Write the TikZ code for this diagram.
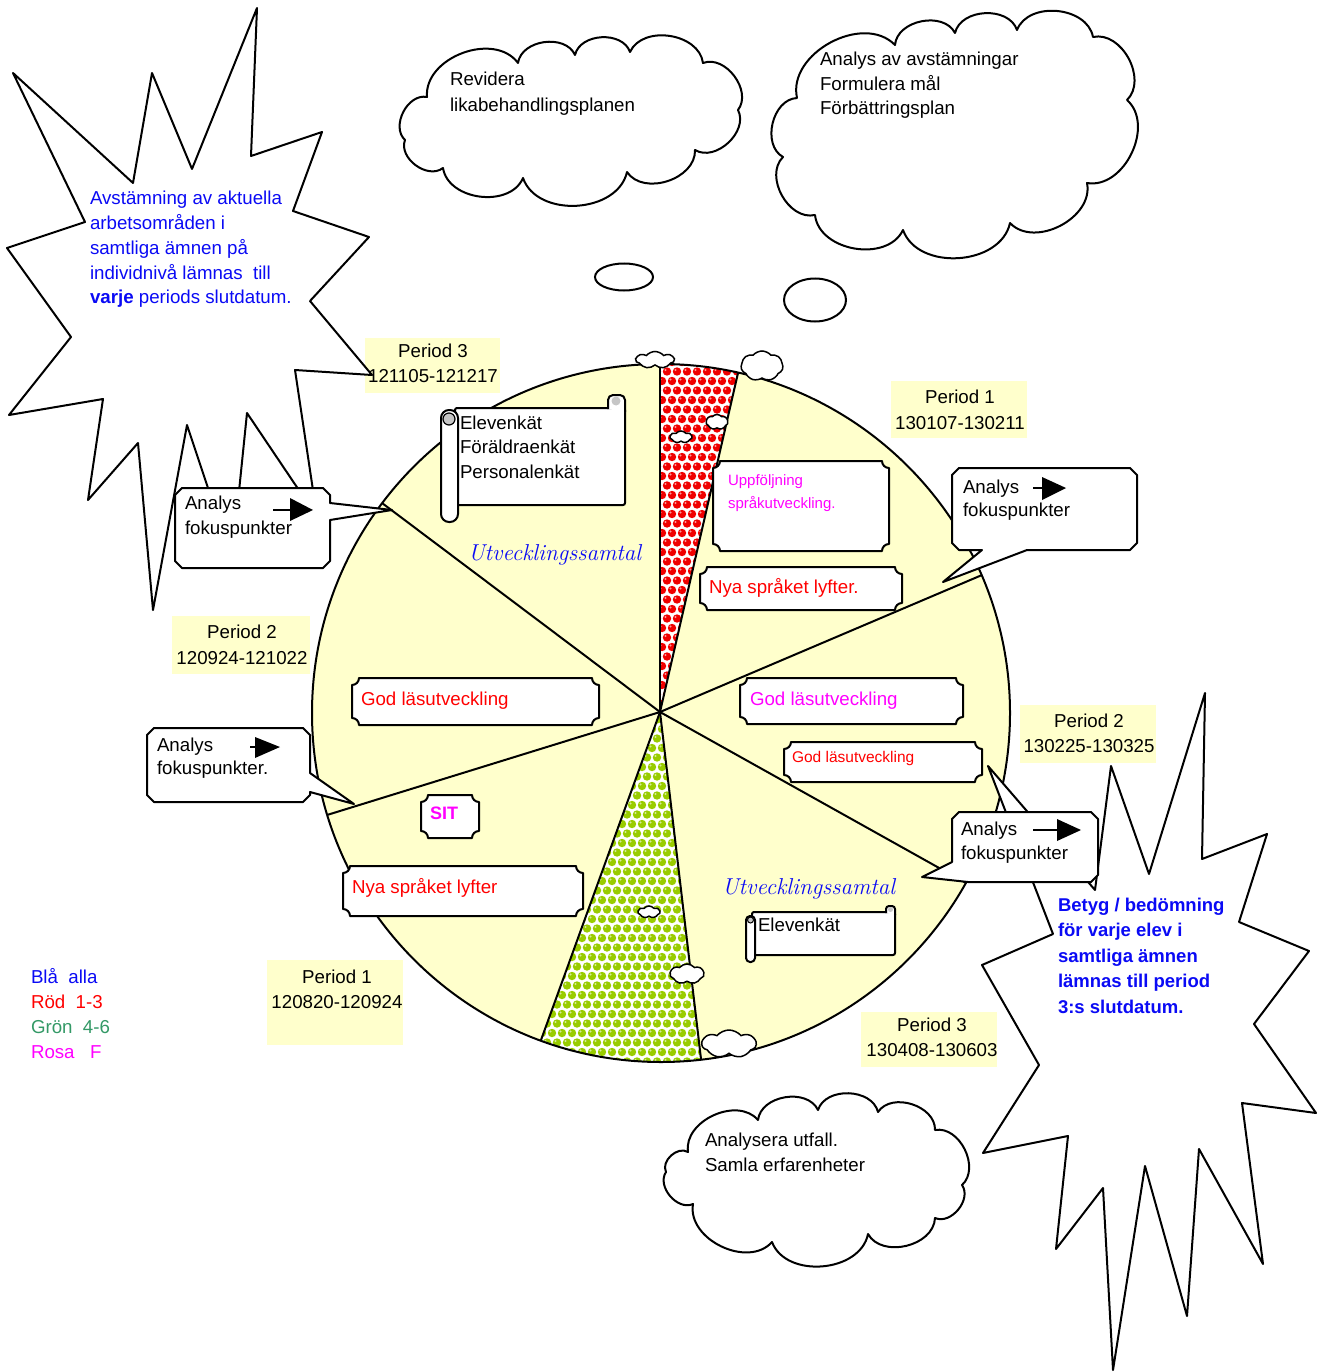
\documentclass[tikz,border=0pt]{standalone}
\usepackage{fontspec}
\setsansfont{Liberation Sans}
\usetikzlibrary{shapes.symbols,shapes.geometric,calc}
\definecolor{pyellow}{RGB}{255,255,204}
\definecolor{tblue}{RGB}{10,10,245}
\definecolor{tred}{RGB}{255,0,0}
\definecolor{tmag}{RGB}{255,0,255}
\definecolor{tgreen}{RGB}{51,153,102}
\definecolor{dotred}{RGB}{240,0,0}
\definecolor{dotgreen}{RGB}{153,204,0}
\newcommand\ltab[1]{\begin{tabular}[t]{@{}l@{}}#1\end{tabular}}
\newcommand\ctab[1]{\begin{tabular}[t]{@{}c@{}}#1\end{tabular}}
\newcommand\fsz[1]{\sffamily\fontsize{18.7}{#1}\selectfont}
\tikzset{
  outl/.style={line width=2pt, line join=round},
  pf/.style={bend left=74, looseness=1.05},
  blob/.style={cloud, cloud puffs=7, cloud puff arc=100, cloud ignores aspect, draw, fill=white, line width=1.5pt, inner sep=0, outer sep=0},
  bubble/.style={ellipse, draw, fill=white, line width=2pt, inner sep=0, outer sep=0},
  pbox/.style={fill=pyellow, draw=none, inner sep=0, outer sep=0},
  plqline/.style={draw, fill=white, line width=2pt, line join=round},
  txt/.style={inner sep=0, outer sep=0, font=\fsz{24.5}},
  callout/.style={draw, fill=white, line width=2pt, line join=round},
  spoke/.style={line width=2pt},
}
% plaque: name, x1, y1, x2, y2
\newcommand\plaquebox[5]{%
  \coordinate (#1nw) at (#2,#3);
  \coordinate (#1se) at (#4,#5);
  \draw[plqline] (#2+7,#3) -- (#4-7,#3) arc[start angle=180,end angle=90,radius=7]
    -- (#4,#5-7) arc[start angle=270,end angle=180,radius=7]
    -- (#2+7,#5) arc[start angle=360,end angle=270,radius=7]
    -- (#2,#3+7) arc[start angle=90,end angle=0,radius=7] -- cycle;}
\begin{document}
\begin{tikzpicture}[x=1pt,y=-1pt]
\useasboundingbox (0,0) rectangle (1324,1372);
\fill[white] (0,0) rectangle (1324,1372);

% thought clouds
\coordinate (cloudA) at (569,123);
\draw[outl, fill=white] (405,140) to[pf] (427,97) to[pf] (518,63) to[pf] (575,55) to[pf] (630,52) to[pf] (703,63) to[pf] (738,110) to[pf] (695,150) to[pf] (627,172) to[pf] (523,178) to[pf] (443,168) to[pf] (405,140) -- cycle;
\coordinate (cloudB) at (950,135);
\draw[outl, fill=white] (797,98) to[pf] (895,45) to[pf] (955,33) to[pf] (1017,30) to[pf] (1093,37) to[pf] (1127,100) to[pf] (1087,183) to[pf] (1010,223) to[pf] (903,230) to[pf] (815,215) to[pf] (783,157) to[pf] (797,98) -- cycle;
\coordinate (cloudC) at (813,1181);
\draw[outl, fill=white] (688,1152) to[pf] (758,1120) to[pf] (818,1110) to[pf] (878,1112) to[pf] (935,1130) to[pf] (962,1185) to[pf] (935,1218) to[pf] (868,1234) to[pf] (772,1242) to[pf] (693,1204) to[pf] (666,1172) to[pf] (688,1152) -- cycle;
\node[bubble, minimum width=58pt, minimum height=27pt] (bubA) at (624,277) {};
\node[bubble, minimum width=62pt, minimum height=43pt] (bubB) at (815,300) {};

% period boxes
\node[pbox, minimum width=135pt, minimum height=55pt] (p3l) at (432.5,365.5) {};
\node[pbox, minimum width=136pt, minimum height=57pt] (p1r) at (959,409.5) {};
\node[pbox, minimum width=138pt, minimum height=58pt] (p2l) at (241,645) {};
\node[pbox, minimum width=136pt, minimum height=58pt] (p2r) at (1088,734) {};
\node[pbox, minimum width=136pt, minimum height=85pt] (p1l) at (335,1002.5) {};
\node[pbox, minimum width=136pt, minimum height=55pt] (p3r) at (929,1039.5) {};

% left starburst
\draw[outl, fill=white] (13,73) -- (133,183) -- (152,73) -- (192,169) -- (257,8) -- (251,156) -- (322,132) -- (293,211) -- (369,237) -- (310,301) -- (372,375) -- (295,370) -- (317,517) -- (247,413) -- (232,560) -- (187,425) -- (153,610) -- (138,443) -- (88,500) -- (103,399) -- (9,415) -- (71,337) -- (7,248) -- (85,222) -- cycle;

% wheel
\node[circle, fill=pyellow, minimum size=698pt, inner sep=0, outer sep=0] (wheel) at (661,713) {};
\coordinate (C) at (660,712);
\coordinate (sTop) at (660,364);
\coordinate (sRed) at (738,373);
\coordinate (sUL) at (382,503);
\coordinate (sUR) at (982,575);
\coordinate (sLL) at (327,815);
\coordinate (sLR) at (966,883);
\coordinate (sGL) at (541,1040);
\coordinate (sGR) at (701,1059);

\begin{scope}
  \clip (661,713) circle (349pt);
  \begin{scope}
    \clip (C) -- (660,330) -- ($(C)!1.12!(sRed)$) -- cycle;
    \fill[white] (640,330) rectangle (760,720);
    \foreach \j in {0,...,37} {
      \foreach \i in {0,...,10} {
        \pgfmathsetmacro{\xx}{652+\i*10+mod(\j,2)*5}
        \pgfmathsetmacro{\yy}{362+\j*9.5}
        \fill[dotred] (\xx,\yy) circle (4.2pt);
        \fill[white, opacity=0.6] (\xx-1.5,\yy-1.5) circle (1.2pt);
      }
    }
  \end{scope}
  \begin{scope}
    \clip (C) -- ($(C)!1.1!(sGL)$) -- ($(C)!1.1!(sGR)$) -- cycle;
    \fill[white] (500,700) rectangle (720,1080);
    \foreach \j in {0,...,39} {
      \foreach \i in {0,...,19} {
        \pgfmathsetmacro{\xx}{522+\i*10+mod(\j,2)*5}
        \pgfmathsetmacro{\yy}{710+\j*9.5}
        \fill[dotgreen] (\xx,\yy) circle (4.2pt);
        \fill[white, opacity=0.6] (\xx-1.5,\yy-1.5) circle (1.2pt);
      }
    }
  \end{scope}
\end{scope}

\foreach \e in {sTop,sRed,sUL,sUR,sLL,sLR,sGL,sGR} { \draw[spoke] (C) -- (\e); }
\node[circle, draw, line width=2pt, minimum size=698pt, inner sep=0, outer sep=0] (rim) at (661,713) {};

% right starburst
\draw[outl, fill=white] (1205,693) -- (1202,859) -- (1267,834) -- (1239,922) -- (1309,951) -- (1254,1024) -- (1316,1113) -- (1242,1103) -- (1263,1264) -- (1199,1149) -- (1187,1316) -- (1145,1166) -- (1113,1370) -- (1103,1188) -- (1056,1249) -- (1068,1136) -- (983,1153) -- (1039,1065) -- (982,965) -- (1053,934) -- (988,766) -- (1095,890) -- (1111,766) -- (1149,874) -- cycle;

% blobs on wheel
\node[blob, minimum width=38pt, minimum height=17pt] (bl1) at (655,360) {};
\node[blob, minimum width=42pt, minimum height=30pt] (bl2) at (762,366) {};
\node[blob, minimum width=22pt, minimum height=12pt] (bl3) at (681,437) {};
\node[blob, minimum width=22pt, minimum height=15pt] (bl4) at (717,422) {};
\node[blob, minimum width=22pt, minimum height=12pt] (bl5) at (649,912) {};
\node[blob, minimum width=34pt, minimum height=20pt] (bl6) at (687,974) {};
\node[blob, minimum width=54pt, minimum height=28pt] (bl7) at (729,1044) {};

% callouts
\draw[callout] (182,488) -- (323,488) -- (330,495) -- (330,503) -- (392,510) -- (330,520) -- (330,561) -- (323,568) -- (182,568) -- (175,561) -- (175,495) -- cycle;
\draw[callout] (154,728) -- (303,728) -- (310,735) -- (310,773) -- (354,804) -- (310,792) -- (310,795) -- (303,802) -- (154,802) -- (147,795) -- (147,735) -- cycle;
\draw[callout] (959,468) -- (1130,468) -- (1137,475) -- (1137,543) -- (1130,550) -- (1027,550) -- (943,582) -- (982,550) -- (959,550) -- (952,543) -- (952,475) -- cycle;
\draw[callout] (959,812) -- (1091,812) -- (1098,819) -- (1098,875) -- (1091,882) -- (968,882) -- (922,877) -- (952,862) -- (952,819) -- cycle;
% arrows in callouts
\draw[line width=1.5pt] (273,510) -- (292,510);
\fill (290,498) -- (313,510) -- (290,521) -- cycle;
\draw[line width=1.5pt] (250,747) -- (257,747);
\fill (255,737) -- (280,747) -- (255,758) -- cycle;
\draw[line width=1.5pt] (1033,488) -- (1043,488);
\fill (1042,477) -- (1066,488) -- (1042,500) -- cycle;
\draw[line width=1.5pt] (1033,830) -- (1058,830);
\fill (1057,819) -- (1081,830) -- (1057,841) -- cycle;

% plaques
\plaquebox{upp}{713}{461}{889}{551}
\plaquebox{nyaA}{700}{567}{902}{610}
\plaquebox{godm}{740}{678}{963}{724}
\plaquebox{gods}{784}{742}{982}{782}
\plaquebox{godl}{352}{678}{599}{725}
\plaquebox{sit}{421}{795}{479}{838}
\plaquebox{nyaB}{343}{866}{583}{916}

% big scroll
\node[draw, fill=white, line width=2pt, rounded corners=2pt, minimum width=170pt, minimum height=97pt, inner sep=0, outer sep=0] (scrollA) at (540,456.5) {};
\draw[outl, fill=white, rounded corners=5pt] (608,409) -- (608,395) -- (625,395) -- (625,412);
\fill[gray!45] (616,401) circle (4.5pt);
\draw[outl, fill=white, rounded corners=8pt] (441,410) rectangle (458,522);
\draw[line width=1.2pt, fill=gray!45] (449,419) circle (6pt);
% small scroll
\node[draw, fill=white, line width=2pt, rounded corners=2pt, minimum width=143pt, minimum height=43pt, inner sep=0, outer sep=0] (scrollB) at (823.5,933.5) {};
\draw[outl, fill=white, rounded corners=3pt] (886,913) -- (886,906) -- (895,906) -- (895,915);
\fill[gray!45] (890.5,909.5) circle (2.5pt);
\draw[outl, fill=white, rounded corners=4pt] (746,916) rectangle (755,962);
\draw[line width=1pt, fill=gray!45] (750.5,920) circle (3pt);

% texts
\node[txt, anchor=base west, text=tblue, font=\fsz{24.7}] (tAvst) at (90,205) {\ltab{Avstämning av aktuella\\arbetsområden i\\samtliga ämnen på\\individnivå lämnas\ \ till\\\textbf{varje} periods slutdatum.}};
\node[txt, anchor=base west, font=\fsz{26}] (tRev) at (450,86) {\ltab{Revidera\\likabehandlingsplanen}};
\node[txt, anchor=base west] (tAna) at (820,66) {\ltab{Analys av avstämningar\\Formulera mål\\Förbättringsplan}};
\node[txt, anchor=base west, font=\fsz{25}] (tAnaU) at (705,1146) {\ltab{Analysera utfall.\\Samla erfarenheter}};

\node[txt, anchor=base, font=\fsz{25}] (tp3l) at (433,357) {\ctab{Period 3\\121105-121217}};
\node[txt, anchor=base, font=\fsz{26}] (tp1r) at (960,403) {\ctab{Period 1\\130107-130211}};
\node[txt, anchor=base, font=\fsz{26}] (tp2l) at (242,638) {\ctab{Period 2\\120924-121022}};
\node[txt, anchor=base, font=\fsz{25}] (tp2r) at (1089,727) {\ctab{Period 2\\130225-130325}};
\node[txt, anchor=base, font=\fsz{25}] (tp1l) at (337,983) {\ctab{Period 1\\120820-120924}};
\node[txt, anchor=base, font=\fsz{25}] (tp3r) at (932,1031) {\ctab{Period 3\\130408-130603}};

\node[txt, anchor=base west, font=\fsz{25}] (tc1) at (185,509) {\ltab{Analys\\fokuspunkter}};
\node[txt, anchor=base west, font=\fsz{23}] (tc2) at (157,751) {\ltab{Analys\\fokuspunkter.}};
\node[txt, anchor=base west, font=\fsz{23}] (tc3) at (963,493) {\ltab{Analys\\fokuspunkter}};
\node[txt, anchor=base west, font=\fsz{24}] (tc4) at (961,835) {\ltab{Analys\\fokuspunkter}};

\node[txt, anchor=base west, text=tmag, font=\sffamily\fontsize{15}{23}\selectfont] (tupp) at (728,485) {\ltab{Uppföljning\\språkutveckling.}};
\node[txt, anchor=base west, text=tred] (tnya1) at (709,593) {Nya språket lyfter.};
\node[txt, anchor=base west, text=tmag] (tgodm) at (750,705) {God läsutveckling};
\node[txt, anchor=base west, text=tred, font=\sffamily\fontsize{15.5}{20}\selectfont] (tgods) at (792,762) {God läsutveckling};
\node[txt, anchor=base west, text=tred] (tgodl) at (361,705) {God läsutveckling};
\node[txt, anchor=base west, text=tmag, font=\sffamily\bfseries\fontsize{18}{24}\selectfont] (tsit) at (430,819) {SIT};
\node[txt, anchor=base west, text=tred] (tnya2) at (352,893) {Nya språket lyfter};

\node[txt, anchor=base west] (tenk) at (460,429) {\ltab{Elevenkät\\Föräldraenkät\\Personalenkät}};
\node[txt, anchor=base west] (tenk2) at (758,931) {Elevenkät};

\node[txt, anchor=base west, text=tblue, font=\rmfamily\itshape\fontsize{23}{26}\selectfont] (tutv1) at (468,560) {Utvecklingssamtal};
\node[txt, anchor=base west, text=tblue, font=\rmfamily\itshape\fontsize{23}{26}\selectfont] (tutv2) at (722,894) {Utvecklingssamtal};

\node[txt, anchor=base west, text=tblue, font=\sffamily\bfseries\fontsize{18.5}{25.5}\selectfont] (tbet) at (1058,911) {\ltab{Betyg / bedömning\\för varje elev i\\samtliga ämnen\\lämnas till period\\3:s slutdatum.}};

\node[txt, anchor=base west, font=\fsz{25}] (tleg) at (31,983) {\ltab{\color{tblue}Blå\ \ alla\\\color{tred}Röd\ \ 1-3\\\color{tgreen}Grön\ \ 4-6\\\color{tmag}Rosa\ \ \ F}};
\end{tikzpicture}
\end{document}
